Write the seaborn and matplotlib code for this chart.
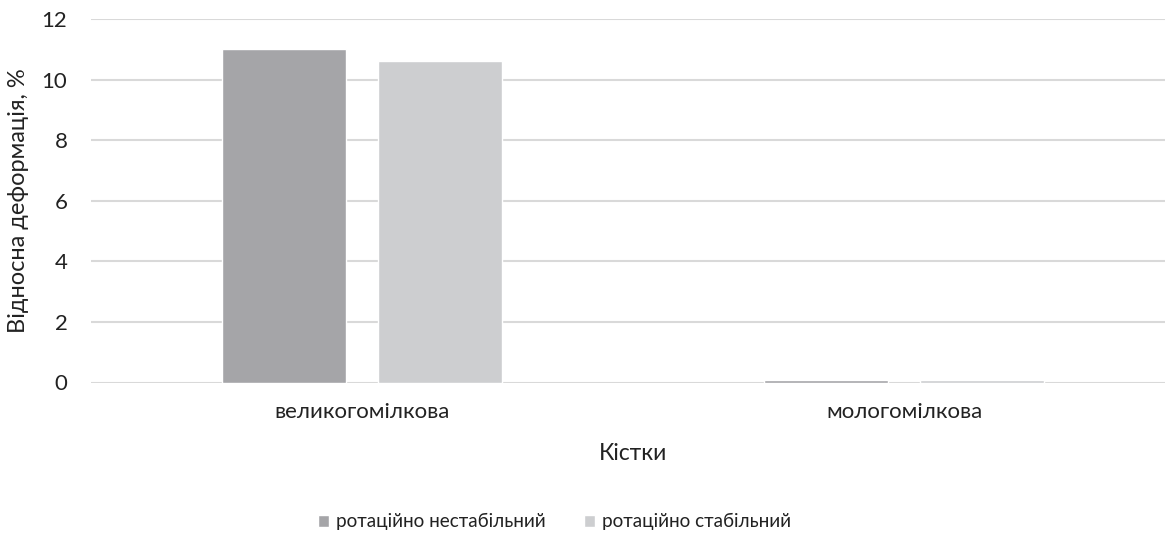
import matplotlib
matplotlib.use("Agg")
import matplotlib.pyplot as plt
import pandas as pd
import seaborn as sns

# Data
bones = ["великогомілкова", "мологомілкова"]
series = ["ротаційно нестабільний", "ротаційно стабільний"]
unstable = [11.0, 0.08]
stable = [10.6, 0.07]

df = pd.DataFrame({
    "bone": bones * 2,
    "type": [series[0]] * 2 + [series[1]] * 2,
    "value": unstable + stable,
})

sns.set_theme(style="white")
plt.rcParams["font.family"] = ["Lato", "DejaVu Sans"]
text_color = "#222222"

fig = plt.figure(figsize=(11.65, 5.34), dpi=100)
ax = fig.add_axes([91 / 1165, 1 - 382.5 / 534, 1084 / 1165, (382.5 - 19) / 534])

sns.barplot(data=df, x="bone", y="value", hue="type", ax=ax,
            palette=["#A5A5A8", "#CDCED0"], width=0.576, gap=0.21,
            saturation=1, errorbar=None, legend=True)

ax.set_ylim(0, 12)
ax.set_yticks(range(0, 13, 2))
ax.yaxis.grid(True, color="#D9D9D9", linewidth=1.5)
ax.set_axisbelow(True)
sns.despine(ax=ax, left=True, bottom=True, top=True, right=True)
ax.tick_params(axis="both", length=0, labelsize=16, colors=text_color)
ax.tick_params(axis="x", pad=14)
ax.tick_params(axis="y", pad=17)

ax.set_xlabel("Кістки", fontsize=16.5, color=text_color, labelpad=15)
ax.set_ylabel("Відносна деформація, %", fontsize=17, color=text_color, labelpad=9)

# legend sits under the plot, a bit left of centre like the original
handles, labels = ax.get_legend_handles_labels()
ax.get_legend().remove()
fig.legend(handles, labels, loc="center", bbox_to_anchor=(0.476, 0.023),
           ncol=2, frameon=False, fontsize=13.6, handlelength=0.6,
           handleheight=0.6, handletextpad=0.37, columnspacing=2.0,
           labelcolor=text_color)

fig.savefig("out.png", dpi=100)
